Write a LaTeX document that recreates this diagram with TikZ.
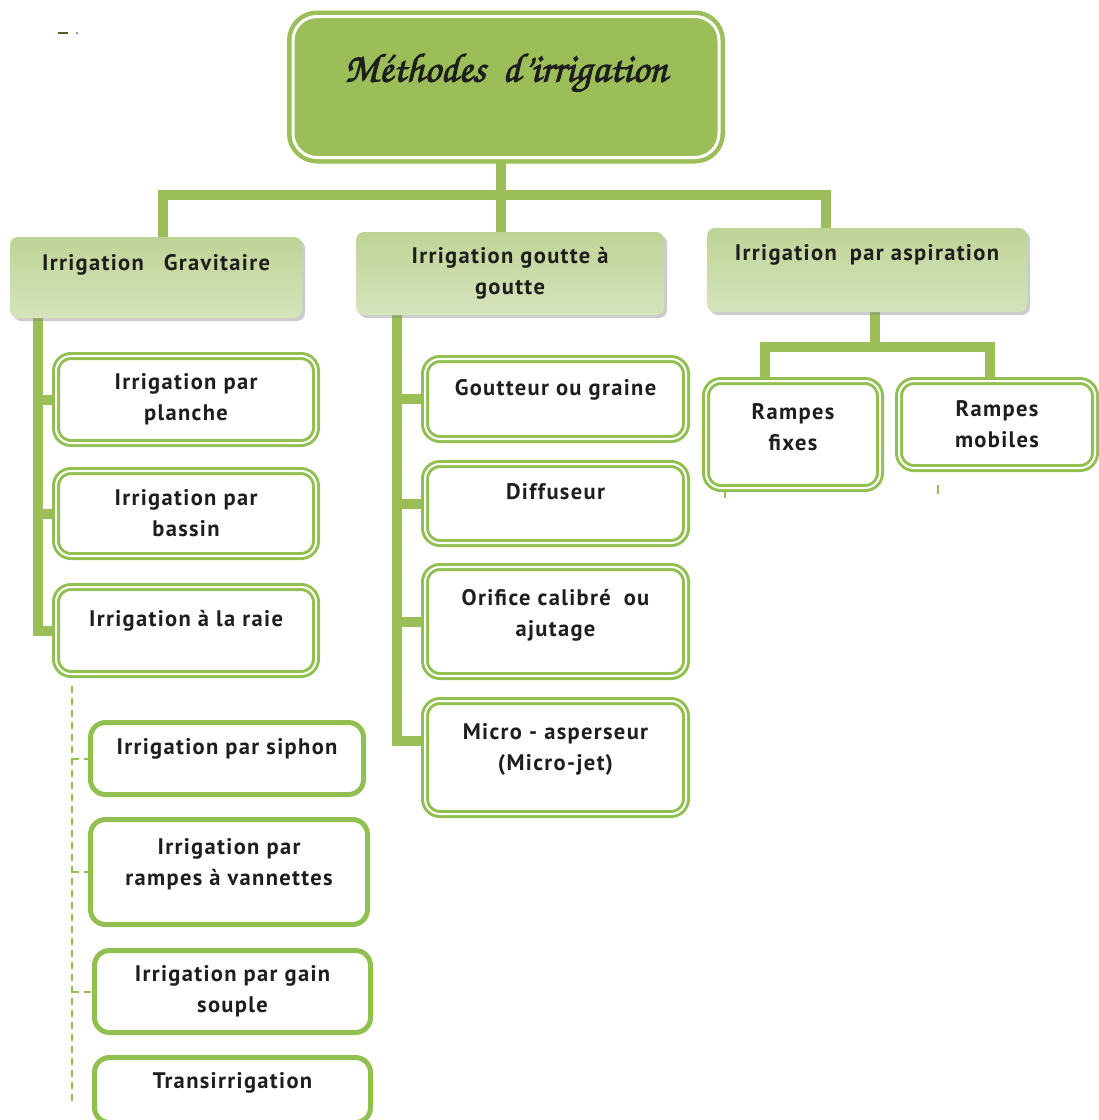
\documentclass[tikz,border=0pt]{standalone}
\usepackage[T1]{fontenc}
\usepackage{fontspec}
\usepackage{xcolor}
\usepackage{tikz}
\usetikzlibrary{shadows,backgrounds}
\newfontfamily\boxfont[LetterSpace=6]{PT Sans}
\definecolor{igreen}{RGB}{155,190,89}
\definecolor{iline}{RGB}{146,192,80}
\definecolor{gtop}{RGB}{190,212,150}
\definecolor{gmid}{RGB}{242,246,232}
\definecolor{gbot}{RGB}{214,228,188}
\definecolor{itext}{RGB}{30,30,30}
\newcommand{\titlefont}{\fontencoding{T1}\fontfamily{pzc}\fontseries{mb}\fontshape{it}\fontsize{41}{44}\selectfont}
\newcommand{\heavy}[1]{\special{pdf:literal 2 Tr 0.9 w}#1\special{pdf:literal 0 Tr}}

\begin{document}
\begin{tikzpicture}[x=1pt,y=-1pt,
  every node/.style={font=\boxfont\bfseries\fontsize{22.5}{31}\selectfont, text=itext, align=center, inner sep=4pt},
  headbox/.style={rounded corners=24pt, fill=igreen, draw=igreen, line width=4.5pt, double=white, double distance=3pt, minimum width=426pt, minimum height=141pt},
  catbox/.style={rounded corners=8pt, top color=gtop, middle color=gmid, bottom color=gbot, drop shadow={shadow xshift=3pt, shadow yshift=-3pt, opacity=.4}},
  itembox/.style={rounded corners=15pt, fill=white, draw=iline, line width=3pt, double=white, double distance=2pt},
  subbox/.style={rounded corners=15pt, fill=white, draw=iline, line width=5pt},
  trunk/.style={draw=igreen, line width=10pt},
  dashline/.style={draw=iline, line width=2pt, dash pattern=on 7pt off 5pt},
  lifted/.style={text depth=#1}]
  \useasboundingbox (0,0) rectangle (1099,1120);

  \node[headbox, lifted=40pt] (title) at (506,87) {\titlefont\heavy{M\'ethodes\hspace{8pt} d'irrigation}};

  \node[catbox, minimum width=292pt, minimum height=81pt, lifted=31pt] (grav) at (156,277.5) {Irrigation\hspace{20pt}Gravitaire};
  \node[catbox, minimum width=308pt, minimum height=83pt] (gout) at (510,273.5) {Irrigation goutte à\\goutte};
  \node[catbox, minimum width=320pt, minimum height=84pt, lifted=35pt] (aspi) at (867,270) {Irrigation\hspace{6pt} par aspiration};

  \node[itembox, minimum width=260pt, minimum height=87pt] (planche) at (186,399.5) {Irrigation par\\planche};
  \node[itembox, minimum width=260pt, minimum height=85pt] (bassin) at (186,513.5) {Irrigation par\\bassin};
  \node[itembox, minimum width=260pt, minimum height=87pt, lifted=25pt] (raie) at (186,630.5) {Irrigation à la raie};

  \node[itembox, minimum width=261pt, minimum height=80pt, lifted=23pt] (goutteur) at (555.5,399) {Goutteur ou graine};
  \node[itembox, minimum width=261pt, minimum height=79pt, lifted=25pt] (diffuseur) at (555.5,503.5) {Diffuseur};
  \node[itembox, minimum width=261pt, minimum height=109pt, lifted=17pt] (orifice) at (555.5,621.5) {Orifice calibré\hspace{6pt} ou\\ajutage};
  \node[itembox, minimum width=261pt, minimum height=113pt, lifted=21pt] (micro) at (555.5,757.5) {Micro - asperseur\\(Micro-jet)};

  \node[itembox, minimum width=174pt, minimum height=107pt, lifted=15pt] (fixes) at (793,434.5) {Rampes\\fixes};
  \node[itembox, minimum width=196pt, minimum height=87pt] (mobiles) at (997,424.5) {Rampes\\mobiles};

  \node[subbox, minimum width=273pt, minimum height=72pt, lifted=25pt] (siphon) at (227,758.5) {Irrigation par siphon};
  \node[subbox, minimum width=277pt, minimum height=105pt, lifted=21pt] (vannettes) at (229,872) {Irrigation par\\rampes à vannettes};
  \node[subbox, minimum width=276pt, minimum height=82pt] (gain) at (232.5,991.5) {Irrigation par gain\\souple};
  \node[subbox, minimum width=276pt, minimum height=65pt, lifted=19pt] (trans) at (232.5,1090) {Transirrigation};

  \begin{pgfonlayer}{background}
    \fill[white] (0,0) rectangle (1099,1120);
    \coordinate (hub) at ([xshift=-5pt,yshift=-35pt]title.south);
    \draw[trunk] ([xshift=7pt]grav.north) |- (hub) -| ([xshift=-41pt]aspi.north);
    \draw[trunk] ([xshift=-5pt]title.south) -- (hub) -- ([xshift=-9pt]gout.north);

    \draw[trunk] ([xshift=28pt]grav.south west) |- (raie.west);
    \draw[trunk] ([xshift=28pt]grav.south west) |- (planche.west);
    \draw[trunk] ([xshift=28pt]grav.south west) |- (bassin.west);

    \draw[trunk] ([xshift=41pt]gout.south west) |- ([yshift=17pt]micro.west);
    \draw[trunk] ([xshift=41pt]gout.south west) |- (goutteur.west);
    \draw[trunk] ([xshift=41pt]gout.south west) |- (diffuseur.west);
    \draw[trunk] ([xshift=41pt]gout.south west) |- (orifice.west);

    \coordinate (rhub) at ([xshift=8pt,yshift=-35pt]aspi.south);
    \draw[trunk] ([xshift=8pt]aspi.south) -- (rhub);
    \draw[trunk] ([xshift=-28pt]fixes.north) |- (rhub) -| ([xshift=-7pt]mobiles.north);

    \coordinate (dtop) at ([xshift=17pt,yshift=-10pt]raie.south west);
    \draw[dashline] (dtop) -- ++(0,416);
    \draw[dashline] (dtop |- siphon.west) -- (siphon.west);
    \draw[dashline] (dtop |- vannettes.west) -- (vannettes.west);
    \draw[dashline] (dtop |- gain.west) -- (gain.west);
  \end{pgfonlayer}

  \draw[igreen!50!black, line width=2pt] (58,33) -- (68,33);
  \fill[igreen!50!black] (77,33) circle (1pt);
  \draw[iline, line width=2pt] (938,485) -- (938,494);
  \draw[iline, line width=2pt] (725,492) -- (725,498);
\end{tikzpicture}
\end{document}
